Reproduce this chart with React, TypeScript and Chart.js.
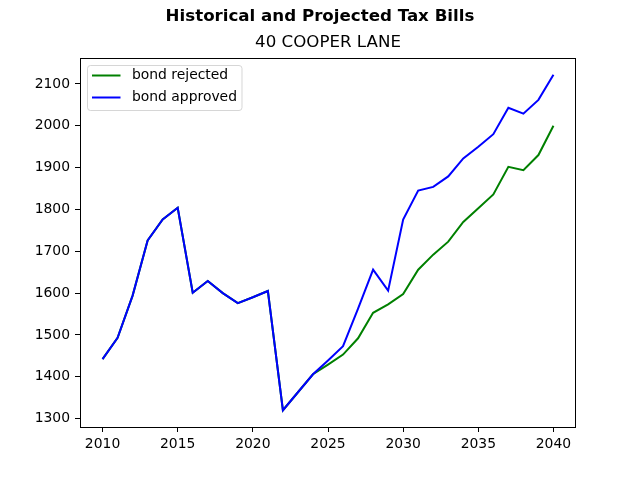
import React, { useEffect, useRef } from "react";
import { Chart, registerables } from "chart.js";

Chart.register(...registerables);

const years = [
  2010, 2011, 2012, 2013, 2014, 2015, 2016, 2017, 2018, 2019, 2020,
  2021, 2022, 2023, 2024, 2025, 2026, 2027, 2028, 2029, 2030,
  2031, 2032, 2033, 2034, 2035, 2036, 2037, 2038, 2039, 2040,
];

const bondRejected = [
  1442, 1493, 1594, 1726, 1776, 1804, 1601, 1629, 1600, 1576, 1590,
  1605, 1320, 1363, 1406, 1429, 1453, 1492, 1553, 1573, 1598,
  1656, 1692, 1723, 1770, 1803, 1836, 1902, 1894, 1930, 2000,
];

const bondApproved = [
  1442, 1493, 1594, 1726, 1776, 1804, 1601, 1629, 1600, 1576, 1590,
  1605, 1320, 1363, 1406, 1439, 1473, 1563, 1656, 1606, 1776,
  1845, 1854, 1879, 1922, 1950, 1980, 2043, 2029, 2062, 2122,
];

const seriesLabels = ["bond rejected", "bond approved"];
const seriesColors = ["#008000", "#0000ff"];
const figureTitle = "Historical and Projected Tax Bills";
const axesTitle = "40 COOPER LANE";
const xTickStep = 5;
const yTickStep = 100;

const FONT = "'DejaVu Sans', sans-serif";

// 5% padding around the data extent on both axes
function paddedRange(values: number[]) {
  const lo = Math.min(...values);
  const hi = Math.max(...values);
  const m = (hi - lo) * 0.05;
  return { min: lo - m, max: hi + m };
}

const xRange = paddedRange(years);
const yRange = paddedRange([...bondRejected, ...bondApproved]);

function stepTicks(min: number, max: number, step: number) {
  const out: { value: number }[] = [];
  for (let v = Math.ceil(min / step) * step; v <= max + 1e-9; v += step) {
    out.push({ value: v });
  }
  return out;
}

// Figure title over the whole canvas, axes title over the plot area
const titlesPlugin = {
  id: "titles",
  afterDraw(chart: any) {
    const { ctx, chartArea, width } = chart;
    ctx.save();
    ctx.fillStyle = "#000";
    ctx.textAlign = "center";
    ctx.textBaseline = "middle";
    ctx.font = `bold 16.67px ${FONT}`;
    ctx.fillText(figureTitle, width / 2, 16.3);
    ctx.font = `16.67px ${FONT}`;
    ctx.fillText(axesTitle, (chartArea.left + chartArea.right) / 2, 42.8);
    ctx.restore();
  },
};

// Full box around the plot area plus a boxed legend in the upper-left corner
const framePlugin = {
  id: "frameAndLegend",
  afterDatasetsDraw(chart: any) {
    const { ctx, chartArea } = chart;
    const { left, top, right, bottom } = chartArea;
    ctx.save();
    ctx.strokeStyle = "#000";
    ctx.lineWidth = 1;
    ctx.strokeRect(left + 0.5, top + 0.5, right - left - 1, bottom - top);

    const fs = 13.9;
    const bx = left + 7.5;
    const by = top + 7.5;
    const bw = 154.5;
    const bh = 45;
    const r = 3;
    ctx.beginPath();
    ctx.moveTo(bx + r, by);
    ctx.lineTo(bx + bw - r, by);
    ctx.arcTo(bx + bw, by, bx + bw, by + r, r);
    ctx.lineTo(bx + bw, by + bh - r);
    ctx.arcTo(bx + bw, by + bh, bx + bw - r, by + bh, r);
    ctx.lineTo(bx + r, by + bh);
    ctx.arcTo(bx, by + bh, bx, by + bh - r, r);
    ctx.lineTo(bx, by + r);
    ctx.arcTo(bx, by, bx + r, by, r);
    ctx.closePath();
    ctx.fillStyle = "rgba(255,255,255,0.8)";
    ctx.fill();
    ctx.strokeStyle = "rgba(204,204,204,0.8)";
    ctx.lineWidth = 1;
    ctx.stroke();

    ctx.font = `${fs}px ${FONT}`;
    ctx.textBaseline = "middle";
    ctx.textAlign = "left";
    chart.data.datasets.forEach((ds: any, i: number) => {
      const y = by + 10 + i * 22;
      ctx.strokeStyle = ds.borderColor;
      ctx.lineWidth = 2;
      ctx.beginPath();
      ctx.moveTo(bx + 4.5, y);
      ctx.lineTo(bx + 33, y);
      ctx.stroke();
      ctx.fillStyle = "#000";
      ctx.fillText(ds.label, bx + 44.5, y);
    });
    ctx.restore();
  },
};

export default function App() {
  const canvasRef = useRef<HTMLCanvasElement | null>(null);

  useEffect(() => {
    const canvas = canvasRef.current;
    if (!canvas) return;
    const chart = new Chart(canvas, {
      type: "line",
      data: {
        datasets: [
          {
            label: seriesLabels[0],
            data: years.map((x, i) => ({ x, y: bondRejected[i] })),
            borderColor: seriesColors[0],
            backgroundColor: seriesColors[0],
            borderWidth: 2,
            pointRadius: 0,
            tension: 0,
            fill: false,
            order: 1,
          },
          {
            label: seriesLabels[1],
            data: years.map((x, i) => ({ x, y: bondApproved[i] })),
            borderColor: seriesColors[1],
            backgroundColor: seriesColors[1],
            borderWidth: 2,
            pointRadius: 0,
            tension: 0,
            fill: false,
            order: 0,
          },
        ],
      },
      options: {
        responsive: false,
        animation: false,
        events: [],
        layout: { padding: { left: 0, right: 64, top: 58, bottom: 0 } },
        plugins: {
          legend: { display: false },
          tooltip: { enabled: false },
          title: { display: false },
          subtitle: { display: false },
        },
        scales: {
          x: {
            type: "linear",
            min: xRange.min,
            max: xRange.max,
            afterBuildTicks: (scale: any) => {
              scale.ticks = stepTicks(scale.min, scale.max, xTickStep);
            },
            afterFit: (scale: any) => {
              scale.height = 53;
            },
            ticks: {
              color: "#000",
              font: { family: FONT, size: 13.9 },
              padding: 4,
              maxRotation: 0,
              autoSkip: false,
              callback: (v: any) => String(v),
            },
            grid: {
              display: true,
              drawOnChartArea: false,
              drawTicks: true,
              tickLength: 5,
              color: "#000",
              lineWidth: 1,
            },
            border: { display: false },
          },
          y: {
            type: "linear",
            min: yRange.min,
            max: yRange.max,
            afterBuildTicks: (scale: any) => {
              scale.ticks = stepTicks(scale.min, scale.max, yTickStep);
            },
            afterFit: (scale: any) => {
              scale.width = 80;
            },
            ticks: {
              color: "#000",
              font: { family: FONT, size: 13.9 },
              padding: 5,
              autoSkip: false,
              callback: (v: any) => String(v),
            },
            grid: {
              display: true,
              drawOnChartArea: false,
              drawTicks: true,
              tickLength: 5,
              color: "#000",
              lineWidth: 1,
            },
            border: { display: false },
          },
        },
      },
      plugins: [framePlugin, titlesPlugin],
    } as any);
    return () => chart.destroy();
  }, []);

  return (
    <div style={{ position: "absolute", left: 0, top: 0, width: 640, height: 480, background: "#fff" }}>
      <canvas ref={canvasRef} width={640} height={480} />
    </div>
  );
}
